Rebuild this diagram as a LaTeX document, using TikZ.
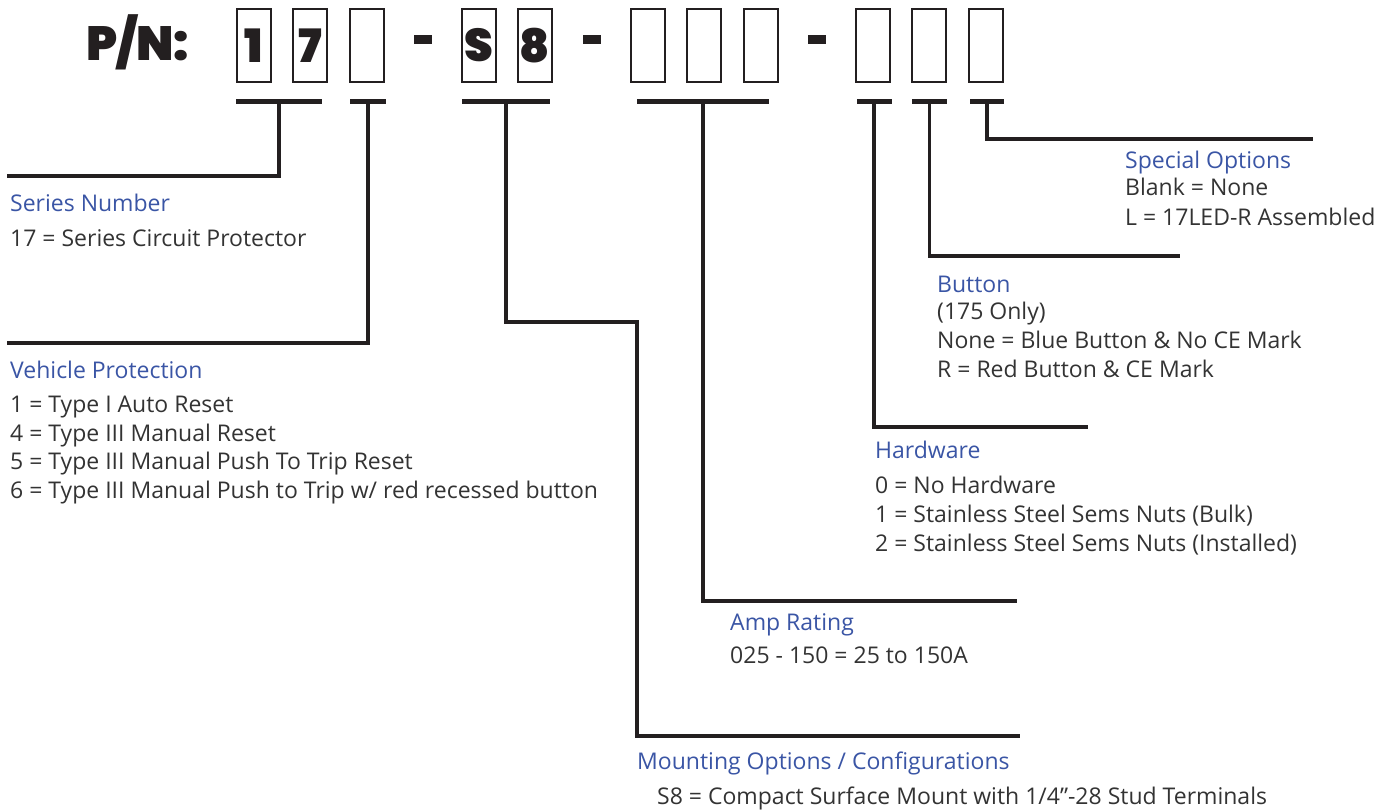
\documentclass[tikz,border=0pt]{standalone}
\usepackage{fontspec}
\setmainfont{Open Sans}
\IfFontExistsTF{Poppins Black}{\newfontfamily\pnfont{Poppins Black}}{\newfontfamily\pnfont{Poppins}[FakeBold=2]}
\definecolor{labelblue}{HTML}{3A55A5}
\definecolor{txtgray}{HTML}{333333}
\definecolor{ink}{HTML}{231F20}
\begin{document}
\begin{tikzpicture}[x=1pt, y=-1pt,
    digit/.style={draw=ink, line width=2pt, minimum width=34pt, minimum height=73pt, inner sep=0pt,
        text=ink, font=\pnfont\fontsize{46}{46}\selectfont},
    hyphen/.style={fill=ink, minimum width=18pt, minimum height=9pt, inner sep=0pt},
    bar/.style={fill=ink, minimum height=5pt, inner sep=0pt},
    lead/.style={draw=ink, line width=3.5pt},
    head/.style={anchor=base west, inner sep=0pt, text=labelblue, font=\fontsize{23}{29}\selectfont},
    body/.style={anchor=base west, inner sep=0pt, text=txtgray, font=\fontsize{23}{29}\selectfont}]
    \useasboundingbox (0,0) rectangle (1388,810);

    % part number row
    \node[anchor=base west, inner sep=0pt, text=ink, font=\pnfont\fontsize{48}{48}\selectfont] (pn) at (86,61) {P/N:};
    \foreach \x/\c [count=\i] in {253.5/1, 310/7, 366.5/{}, 478.5/S, 534.5/8, 647.5/{}, 704/{}, 760.5/{}, 873/{}, 929/{}, 985.5/{}}
        \node[digit] (b\i) at (\x,45.5) {\c};
    \foreach \x [count=\i] in {423, 592, 817}
        \node[hyphen] (d\i) at (\x,39.5) {};

    % bars under the fields
    \foreach \x/\w [count=\i] in {279/86, 368/36, 506/88, 703/132, 874/35, 929.5/35, 987/34}
        \node[bar, minimum width=\w pt] (u\i) at (\x,102) {};

    % leaders
    \coordinate (e1) at (7,176);
    \coordinate (e2) at (7,343);
    \coordinate (m1) at (637,322);
    \coordinate (e3) at (1020,736);
    \coordinate (e4) at (1017,601);
    \coordinate (e5) at (1088,427);
    \coordinate (e6) at (1180,256);
    \coordinate (e7) at (1313,139);
    \draw[lead] (u1.center) |- (e1);
    \draw[lead] (u2.center) |- (e2);
    \draw[lead] (u3.center) |- (m1) |- (e3);
    \draw[lead] (u4.center) |- (e4);
    \draw[lead] (u5.center) |- (e5);
    \draw[lead] (u6.center) |- (e6);
    \draw[lead] (u7.center) |- (e7);

    % descriptions
    \node[head] (sn) at (10,211.5) {Series Number};
    \node[body] (sn1) at (10,246.5) {17 = Series Circuit Protector};

    \node[head] (vp) at (10,378.5) {Vehicle Protection};
    \foreach \t [count=\i] in {1 = Type I Auto Reset, 4 = Type III Manual Reset,
        5 = Type III Manual Push To Trip Reset, 6 = Type III Manual Push to Trip w/ red recessed button}
        \node[body] (vp\i) at (10,383.8+28.7*\i) {\t};

    \node[head] (mo) at (637,769.5) {Mounting Options / Configurations};
    \node[body] (mo1) at (657,804.5) {S8 = Compact Surface Mount with 1/4”-28 Stud Terminals};

    \node[head] (ar) at (730,630.5) {Amp Rating};
    \node[body] (ar1) at (730,663.5) {025 - 150 = 25 to 150A};

    \node[head] (hw) at (875,458.5) {Hardware};
    \foreach \t [count=\i] in {0 = No Hardware, 1 = Stainless Steel Sems Nuts (Bulk),
        2 = Stainless Steel Sems Nuts (Installed)}
        \node[body] (hw\i) at (875,464.5+29*\i) {\t};

    \node[head] (bt) at (937,292.5) {Button};
    \foreach \t [count=\i] in {(175 Only), None = Blue Button \& No CE Mark, R = Red Button \& CE Mark}
        \node[body] (bt\i) at (937,290.5+29*\i) {\t};

    \node[head] (so) at (1125,168.5) {Special Options};
    \foreach \t [count=\i] in {Blank = None, L = 17LED-R Assembled}
        \node[body] (so\i) at (1125,165.5+30*\i) {\t};
\end{tikzpicture}
\end{document}
